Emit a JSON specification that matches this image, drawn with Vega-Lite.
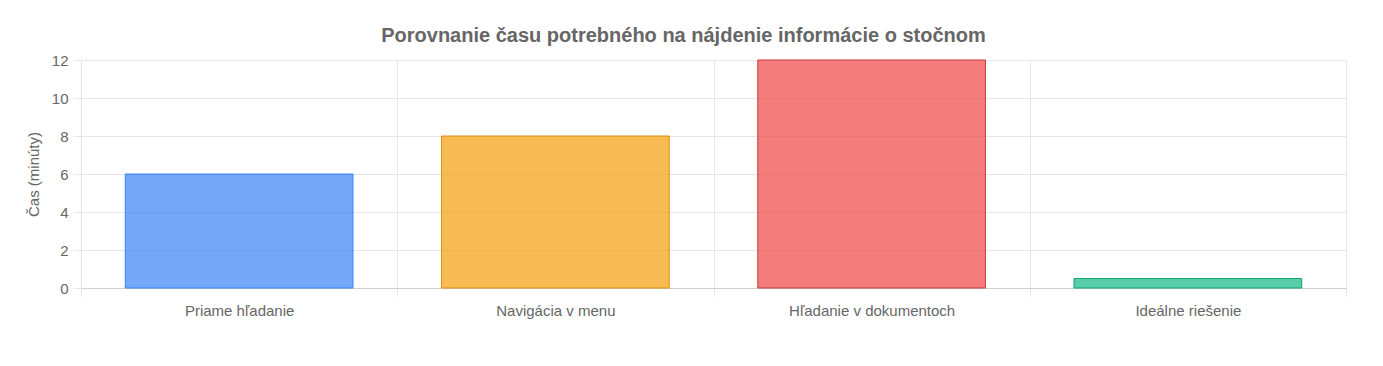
{
  "$schema": "https://vega.github.io/schema/vega-lite/v6.json",
  "width": 1265,
  "height": 228,
  "autosize": {"type": "none"},
  "padding": {"left": 81, "top": 60, "right": 37, "bottom": 78},
  "background": "white",
  "title": {
    "text": "Porovnanie času potrebného na nájdenie informácie o stočnom",
    "font": "Liberation Sans",
    "fontSize": 20,
    "fontWeight": "bold",
    "color": "#666666",
    "anchor": "middle",
    "frame": "group",
    "dx": -30,
    "offset": 7
  },
  "config": {
    "view": {"stroke": null},
    "font": "Liberation Sans"
  },
  "data": {
    "values": [
      {"kategoria": "Priame hľadanie", "cas": 6},
      {"kategoria": "Navigácia v menu", "cas": 8},
      {"kategoria": "Hľadanie v dokumentoch", "cas": 12},
      {"kategoria": "Ideálne riešenie", "cas": 0.5}
    ]
  },
  "mark": {"type": "bar", "width": {"band": 0.72}, "strokeWidth": 1, "fillOpacity": 0.7},
  "encoding": {
    "x": {
      "field": "kategoria",
      "type": "nominal",
      "sort": null,
      "scale": {"paddingInner": 0, "paddingOuter": 0},
      "axis": {
        "title": null,
        "labelAngle": 0,
        "labelFont": "Liberation Sans",
        "labelFontSize": 15,
        "labelColor": "#666666",
        "tickBand": "extent",
        "grid": true,
        "gridColor": "#e6e6e6",
        "tickColor": "#e6e6e6",
        "tickSize": 8,
        "labelPadding": 7,
        "domainColor": "#cfcfcf"
      }
    },
    "y": {
      "field": "cas",
      "type": "quantitative",
      "scale": {"domain": [0, 12], "nice": false},
      "axis": {
        "title": "Čas (minúty)",
        "titleFont": "Liberation Sans",
        "titleFontSize": 15,
        "titleFontWeight": "normal",
        "titleColor": "#666666",
        "titlePadding": 10,
        "values": [0, 2, 4, 6, 8, 10, 12],
        "labelFont": "Liberation Sans",
        "labelFontSize": 15,
        "labelColor": "#666666",
        "grid": true,
        "gridColor": "#e6e6e6",
        "tickColor": "#e6e6e6",
        "tickSize": 8,
        "labelPadding": 5,
        "domainColor": "#e0e0e0"
      }
    },
    "color": {
      "field": "kategoria",
      "type": "nominal",
      "sort": null,
      "scale": {
        "domain": ["Priame hľadanie", "Navigácia v menu", "Hľadanie v dokumentoch", "Ideálne riešenie"],
        "range": ["#3b82f6", "#f59e0b", "#ef4444", "#10b981"]
      },
      "legend": null
    },
    "stroke": {
      "field": "kategoria",
      "type": "nominal",
      "sort": null,
      "scale": {
        "domain": ["Priame hľadanie", "Navigácia v menu", "Hľadanie v dokumentoch", "Ideálne riešenie"],
        "range": ["#3b82f6", "#e0900a", "#c83c3c", "#10a070"]
      },
      "legend": null
    }
  }
}
